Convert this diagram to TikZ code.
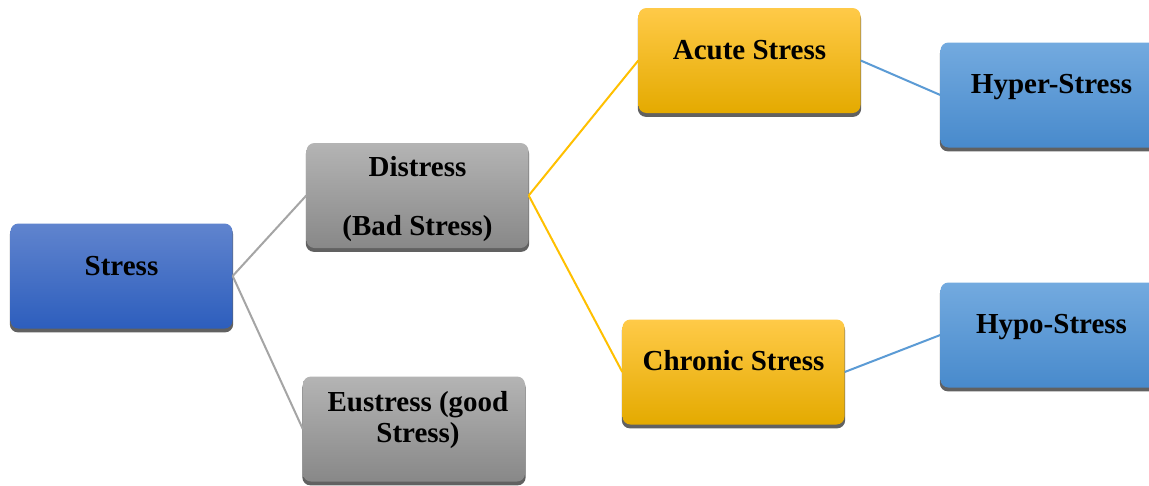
\documentclass[tikz,border=0pt]{standalone}
\usepackage{fontspec}
\setmainfont{Liberation Serif}
\usetikzlibrary{shadows}
\definecolor{linkgrey}{RGB}{165,165,165}
\definecolor{linkgold}{RGB}{255,192,0}
\definecolor{linkblue}{RGB}{91,155,213}
\begin{document}
\begin{tikzpicture}[x=1pt,y=-1pt,
  box/.style={rounded corners=8pt, minimum width=222pt, minimum height=105pt,
    inner sep=0pt, draw=none,
    drop shadow={shadow xshift=0pt, shadow yshift=-3.5pt, shadow scale=1.006,
      fill=black!62, opacity=1}},
  rootbox/.style={box, top color={rgb,255:red,96;green,132;blue,206},
    bottom color={rgb,255:red,45;green,94;blue,189}},
  greybox/.style={box, top color={rgb,255:red,180;green,180;blue,180},
    bottom color={rgb,255:red,136;green,136;blue,136}},
  goldbox/.style={box, top color={rgb,255:red,255;green,202;blue,72},
    middle color={rgb,255:red,255;green,192;blue,0},
    bottom color={rgb,255:red,228;green,170;blue,0}},
  skybox/.style={box, top color={rgb,255:red,115;green,170;blue,223},
    bottom color={rgb,255:red,72;green,138;blue,204}},
  lbl/.style={anchor=base, inner sep=0pt, font=\bfseries\fontsize{29}{33}\selectfont},
  link/.style={line width=2pt}
]
\fill[white] (0,0) rectangle (1149,485);
\useasboundingbox (0,0) rectangle (1149,485);
\clip (0,0) rectangle (1149,485);

% boxes
\node[rootbox] (stress)   at (121.5,276)  {};
\node[greybox] (distress) at (417.5,195.5) {};
\node[greybox] (eustress) at (414,429)    {};
\node[goldbox] (acute)    at (749.5,60.5) {};
\node[goldbox] (chronic)  at (733.5,372)  {};
\node[skybox]  (hyper)    at (1051.5,95)  {};
\node[skybox]  (hypo)     at (1051.5,335) {};

% labels
\node[lbl] (tstress)  at (121.5,275) {Stress};
\node[lbl] (tdis1)    at (417.5,176) {Distress};
\node[lbl] (tdis2)    at (417.5,235) {(Bad Stress)};
\node[lbl] (teu1)     at (418,411)   {Eustress (good};
\node[lbl] (teu2)     at (418,442)   {Stress)};
\node[lbl] (tacute)   at (749.5,59)  {Acute Stress};
\node[lbl] (tchronic) at (733.5,370) {Chronic Stress};
\node[lbl] (thyper)   at (1051.5,93) {Hyper-Stress};
\node[lbl] (thypo)    at (1051.5,333) {Hypo-Stress};

% connectors
\draw[link, linkgrey] (stress.east) -- (distress.west);
\draw[link, linkgrey] (stress.east) -- (eustress.west);
\draw[link, linkgold] (distress.east) -- (acute.west);
\draw[link, linkgold] (distress.east) -- (chronic.west);
\draw[link, linkblue] (acute.east) -- (hyper.west);
\draw[link, linkblue] (chronic.east) -- (hypo.west);
\end{tikzpicture}
\end{document}
